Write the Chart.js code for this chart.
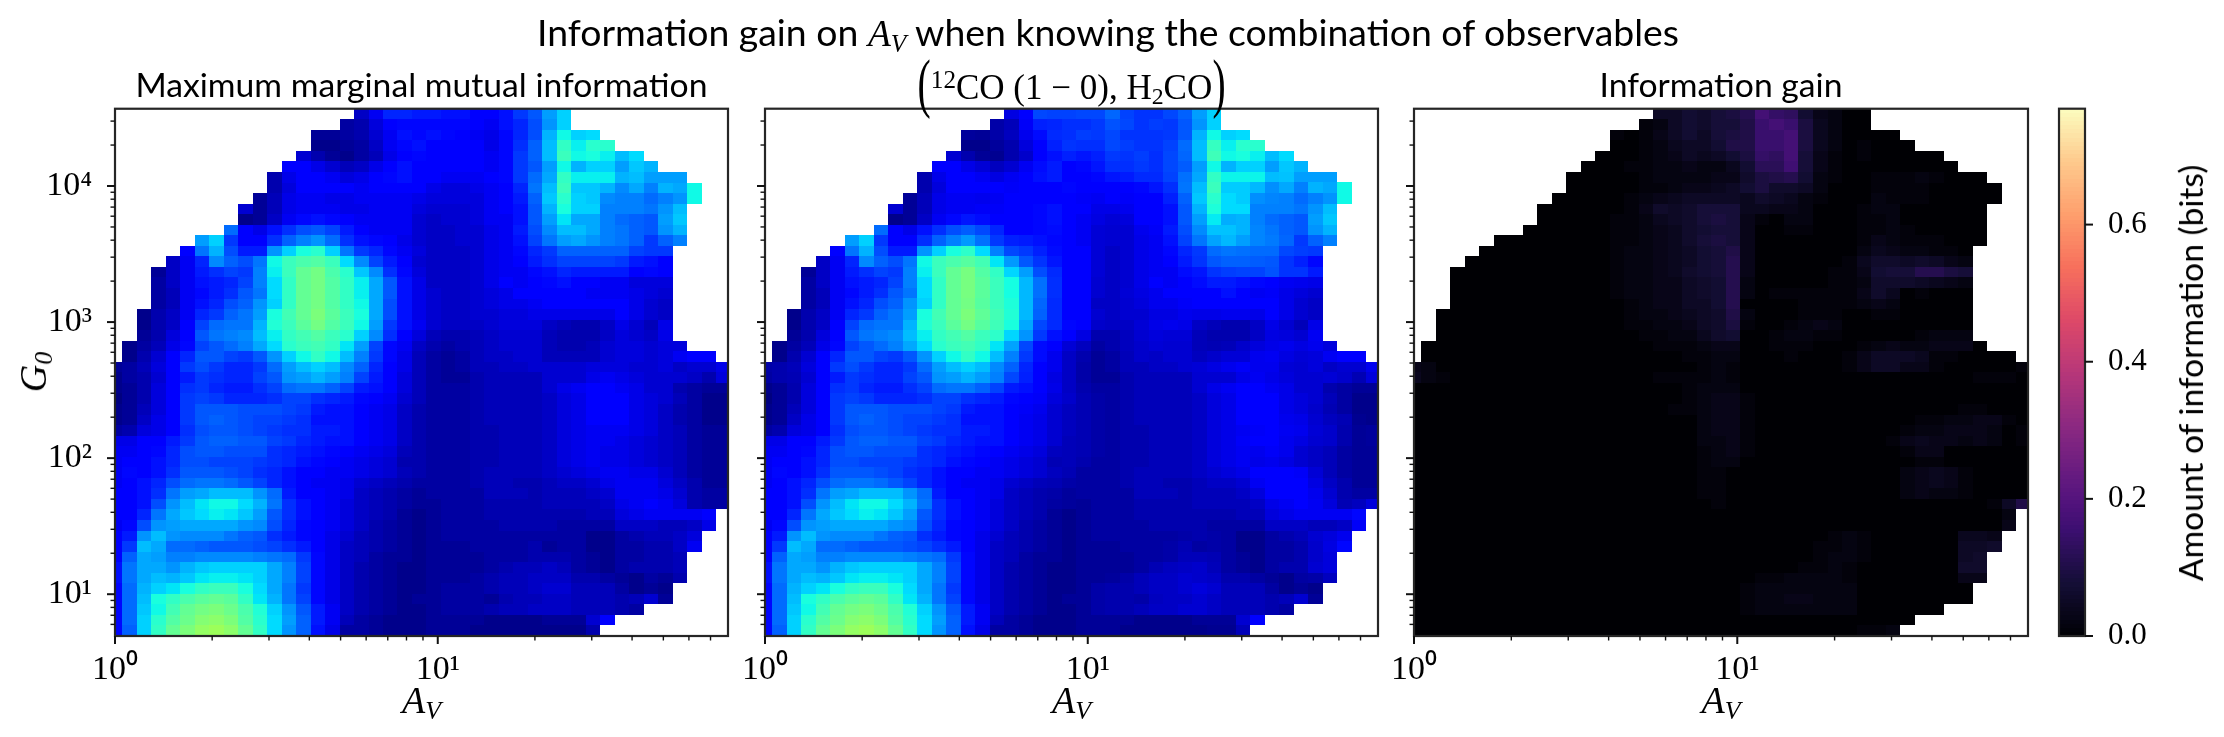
<!DOCTYPE html>
<html>
<head>
<meta charset="utf-8">
<title>Information gain</title>
<script src="https://cdn.jsdelivr.net/npm/chart.js@4"></script>
<style>
    html, body { margin: 0; padding: 0; background: #fff; }
    #page { position: relative; width: 2224px; height: 737px; overflow: hidden; }
    canvas { position: absolute; top: 0; }
    .label { position: absolute; color: #000; white-space: nowrap; z-index: 5; }
    .sans { font-family: Lato, sans-serif; }
    .math { font-family: "Liberation Serif", serif; }
    .math sub { font-size: 0.68em; line-height: 0; vertical-align: -0.22em; }
    .math sup { font-size: 0.72em; line-height: 0; vertical-align: 0.45em; }
    .bigparen { display: inline-block; font-size: 66px; line-height: 0; vertical-align: -0.09em; transform: scaleX(0.6); margin: 0 -4px; }
</style>
</head>
<body>
<div id="page">
    <canvas id="panelMax" width="745" height="737" style="left:0"></canvas>
    <canvas id="panelCombo" width="745" height="737" style="left:650px"></canvas>
    <canvas id="panelGain" width="745" height="737" style="left:1299px"></canvas>
    <canvas id="colorbar" width="179" height="737" style="left:2045px"></canvas>

    <div class="label sans" style="left:436px;width:1344px;top:9px;font-size:37.4px;text-align:center">Information gain on <span class="math"><i>A<sub>V</sub></i></span> when knowing the combination of observables</div>
    <div class="label math" style="left:765px;width:613px;top:68px;font-size:35px;line-height:40px;text-align:center"><span class="bigparen">(</span><sup>12</sup>CO (1 − 0), H<sub>2</sub>CO<span class="bigparen">)</span></div>
    <div class="label math" style="left:115px;width:613px;top:678px;font-size:38px;text-align:center"><i>A<sub>V</sub></i></div>
    <div class="label math" style="left:765px;width:613px;top:678px;font-size:38px;text-align:center"><i>A<sub>V</sub></i></div>
    <div class="label math" style="left:1414px;width:614px;top:678px;font-size:38px;text-align:center"><i>A<sub>V</sub></i></div>
    <div class="label math" style="left:33px;top:372px;font-size:38px;transform:translate(-50%,-50%) rotate(-90deg)"><i>G<sub>0</sub></i></div>
    <div class="label sans" style="left:2190px;top:373px;font-size:33.6px;transform:translate(-50%,-50%) rotate(-90deg)">Amount of information (bits)</div>
</div>

<script>
// cell centres of the grid
const avCenters = [1, 1.109, 1.229, 1.363, 1.512, 1.677, 1.859, 2.062, 2.286, 2.535, 2.811, 3.117, 3.457, 3.833, 4.25, 4.713, 5.226, 5.794, 6.425, 7.125, 7.9, 8.76, 9.71, 10.77, 11.94, 13.24, 14.68, 16.28, 18.06, 20.02, 22.2, 24.62, 27.3, 30.27, 33.57, 37.22, 41.28, 45.77, 50.75, 56.28, 62.4, 69.2, 76.73];
const g0Centers = [33830, 28300, 23670, 19810, 16570, 13860, 11600, 9700, 8115, 6790, 5680, 4752, 3976, 3326, 2782, 2327, 1947, 1629, 1363, 1140, 953.5, 797.7, 667.4, 558.3, 467.1, 390.7, 326.9, 273.5, 228.8, 191.4, 160.1, 133.9, 112, 93.7, 78.4, 65.6, 54.9, 45.9, 38.4, 32.1, 26.9, 22.5, 18.8, 15.7, 13.2, 11, 9.21, 7.7, 6.45, 5.39];

// axis ticks
const avTicks = [1, 2, 3, 4, 5, 6, 7, 8, 9, 10, 20, 30, 40, 50, 60, 70];
const g0Ticks = [6, 7, 8, 9, 10, 20, 30, 40, 50, 60, 70, 80, 90, 100, 200, 300, 400, 500, 600, 700, 800, 900, 1000, 2000, 3000, 4000, 5000, 6000, 7000, 8000, 9000, 10000, 20000, 30000];
const powerLabels = { 1: "10⁰", 10: "10¹", 100: "10²", 1000: "10³", 10000: "10⁴" };
const colorbarTicks = [0, 0.2, 0.4, 0.6];

// first column that has data in each row (top row first)
const rowStart = [17, 16, 14, 14, 13, 12, 11, 11, 10, 9, 9, 8, 6, 5, 4, 3, 3, 3, 3, 2, 2, 2, 1, 1, 0, 0, 0, 0, 0, 0, 0, 0, 0, 0, 0, 0, 0, 0, 0, 0, 0, 0, 0, 0, 0, 0, 0, 0, 0, 0];

// maximum marginal mutual information, in 0.02 bits
const maxMarginal = [
    [6, 10, 16, 16, 15, 15, 14, 14, 12, 11, 14, 18, 21, 28, 33],
    [3, 4, 8, 12, 13, 13, 13, 13, 13, 11, 10, 14, 16, 20, 27, 33],
    [2, 2, 3, 4, 7, 10, 14, 13, 14, 13, 12, 10, 9, 13, 16, 20, 30, 37, 33, 34],
    [1, 1, 2, 3, 6, 10, 13, 14, 12, 12, 12, 11, 9, 13, 17, 22, 31, 41, 36, 40, 40],
    [7, 4, 2, 1, 3, 5, 9, 12, 13, 11, 11, 11, 11, 10, 13, 18, 22, 31, 42, 37, 38, 36, 31, 34],
    [11, 11, 9, 7, 5, 6, 9, 12, 14, 11, 11, 11, 11, 11, 10, 13, 18, 21, 28, 37, 30, 33, 33, 28, 32, 30],
    [4, 9, 11, 11, 10, 8, 9, 11, 13, 14, 11, 11, 10, 10, 10, 11, 13, 18, 23, 29, 41, 36, 36, 36, 30, 31, 28, 28, 28],
    [4, 8, 11, 11, 11, 11, 10, 11, 11, 11, 11, 9, 8, 8, 9, 10, 12, 16, 24, 31, 42, 32, 32, 30, 26, 29, 25, 30, 29, 37],
    [2, 5, 9, 10, 10, 9, 9, 10, 10, 10, 10, 9, 8, 8, 8, 8, 10, 11, 15, 22, 32, 40, 33, 32, 26, 25, 25, 23, 25, 27, 37],
    [7, 2, 5, 9, 10, 10, 10, 9, 9, 10, 10, 10, 8, 7, 7, 7, 8, 10, 11, 14, 21, 30, 38, 33, 33, 25, 25, 25, 24, 27, 31],
    [1, 2, 6, 10, 13, 14, 13, 11, 10, 10, 10, 10, 7, 6, 7, 7, 8, 10, 10, 14, 21, 28, 35, 29, 29, 25, 23, 22, 21, 28, 32],
    [23, 11, 9, 14, 17, 20, 21, 19, 15, 11, 10, 10, 10, 7, 6, 6, 7, 7, 9, 10, 15, 20, 26, 31, 31, 29, 25, 24, 22, 21, 27, 30],
    [28, 33, 18, 12, 11, 17, 22, 25, 27, 23, 17, 14, 13, 11, 9, 7, 6, 6, 7, 7, 9, 10, 14, 19, 24, 28, 29, 27, 25, 24, 22, 18, 22, 25],
    [11, 24, 30, 20, 15, 15, 27, 33, 38, 40, 33, 24, 18, 16, 13, 10, 8, 6, 6, 6, 7, 9, 10, 13, 16, 18, 22, 22, 22, 22, 22, 19, 18, 18],
    [6, 10, 16, 26, 22, 20, 24, 37, 42, 44, 45, 42, 34, 26, 19, 15, 11, 7, 6, 6, 6, 7, 9, 10, 12, 15, 17, 19, 19, 19, 19, 18, 15, 14, 12],
    [2, 6, 10, 15, 17, 19, 18, 25, 36, 42, 47, 49, 44, 40, 32, 26, 17, 13, 8, 6, 6, 6, 7, 9, 10, 10, 13, 14, 16, 15, 15, 15, 15, 12, 13, 11],
    [3, 6, 10, 14, 15, 16, 19, 25, 34, 41, 47, 49, 45, 41, 36, 29, 21, 14, 9, 6, 6, 6, 7, 9, 11, 10, 12, 13, 14, 12, 11, 10, 10, 8, 8, 8],
    [3, 5, 10, 13, 15, 17, 21, 24, 34, 41, 47, 49, 45, 41, 36, 29, 21, 14, 9, 7, 6, 6, 7, 8, 9, 11, 11, 11, 11, 11, 10, 10, 10, 9, 8, 7],
    [3, 5, 10, 14, 16, 20, 22, 27, 33, 41, 47, 49, 45, 41, 37, 29, 20, 14, 9, 7, 6, 6, 7, 8, 9, 9, 10, 11, 11, 11, 11, 11, 11, 9, 7, 6],
    [1, 4, 6, 10, 16, 18, 22, 24, 28, 38, 43, 47, 50, 46, 42, 38, 29, 20, 14, 9, 7, 6, 6, 7, 7, 8, 8, 9, 9, 9, 9, 9, 9, 11, 9, 7, 6],
    [1, 4, 6, 11, 19, 23, 24, 24, 30, 39, 42, 46, 49, 45, 42, 37, 28, 18, 14, 10, 7, 6, 6, 6, 7, 8, 8, 8, 6, 5, 4, 4, 6, 9, 7, 5, 9],
    [2, 4, 8, 12, 21, 24, 25, 26, 31, 36, 41, 43, 45, 42, 40, 33, 26, 17, 12, 8, 5, 4, 4, 5, 6, 7, 7, 7, 5, 4, 4, 4, 6, 8, 7, 6, 9],
    [1, 3, 5, 9, 13, 19, 21, 23, 25, 29, 34, 40, 42, 43, 41, 35, 28, 19, 13, 10, 6, 4, 3, 4, 5, 6, 7, 7, 7, 5, 4, 4, 5, 7, 8, 8, 7, 8, 8],
    [1, 4, 7, 11, 16, 21, 21, 19, 18, 21, 27, 33, 37, 41, 37, 31, 25, 18, 13, 9, 5, 3, 2, 3, 5, 6, 6, 7, 7, 5, 5, 5, 5, 7, 8, 8, 7, 8, 10, 11, 11],
    [2, 3, 5, 8, 11, 18, 20, 18, 16, 16, 18, 23, 28, 31, 33, 31, 26, 22, 16, 12, 9, 5, 3, 2, 3, 5, 5, 6, 6, 7, 7, 7, 7, 8, 8, 8, 7, 7, 8, 6, 7, 7, 9],
    [1, 3, 4, 7, 11, 15, 18, 17, 16, 16, 19, 21, 27, 28, 30, 28, 25, 19, 15, 11, 8, 5, 3, 2, 2, 4, 5, 5, 5, 5, 7, 7, 7, 9, 10, 9, 8, 7, 7, 7, 6, 4, 8],
    [1, 2, 4, 8, 12, 17, 18, 16, 15, 15, 17, 19, 23, 24, 24, 22, 19, 15, 14, 11, 8, 5, 3, 3, 3, 4, 5, 5, 5, 5, 7, 9, 10, 11, 11, 10, 9, 7, 7, 4, 3, 2, 2],
    [0, 2, 4, 8, 12, 18, 19, 18, 16, 16, 16, 17, 19, 19, 17, 16, 15, 13, 11, 10, 7, 5, 3, 3, 3, 4, 5, 5, 5, 5, 6, 8, 9, 11, 11, 11, 9, 8, 7, 5, 3, 1, 1],
    [1, 2, 5, 8, 12, 18, 21, 21, 21, 20, 20, 20, 19, 18, 15, 14, 14, 12, 10, 9, 6, 4, 3, 3, 3, 4, 5, 5, 5, 5, 6, 8, 9, 11, 11, 11, 9, 8, 6, 4, 3, 1, 1],
    [1, 2, 6, 9, 12, 18, 21, 22, 21, 20, 19, 19, 18, 17, 14, 14, 14, 12, 10, 9, 6, 4, 3, 3, 3, 4, 5, 5, 5, 5, 6, 8, 9, 11, 11, 11, 9, 8, 6, 4, 3, 1, 1],
    [3, 4, 8, 9, 12, 17, 20, 21, 21, 20, 19, 18, 17, 17, 15, 15, 14, 12, 10, 9, 6, 4, 3, 3, 3, 4, 4, 5, 5, 5, 6, 8, 9, 10, 10, 10, 9, 8, 6, 5, 3, 2, 2],
    [9, 9, 11, 12, 15, 18, 21, 22, 22, 21, 21, 19, 18, 16, 15, 14, 14, 11, 10, 9, 6, 4, 3, 3, 3, 4, 4, 5, 5, 5, 6, 8, 9, 10, 10, 9, 8, 7, 6, 5, 3, 2, 2],
    [10, 10, 11, 13, 16, 20, 21, 21, 20, 20, 20, 17, 16, 15, 14, 13, 12, 10, 9, 8, 5, 4, 3, 3, 3, 4, 4, 5, 5, 5, 6, 8, 9, 10, 9, 9, 8, 7, 6, 5, 3, 2, 2],
    [10, 11, 12, 14, 16, 20, 20, 19, 19, 19, 18, 17, 16, 14, 13, 12, 10, 9, 8, 7, 4, 4, 3, 3, 3, 4, 4, 5, 5, 5, 6, 8, 9, 10, 9, 9, 8, 7, 6, 5, 3, 2, 2],
    [10, 13, 12, 14, 17, 21, 21, 21, 20, 19, 17, 16, 14, 12, 11, 10, 10, 9, 8, 7, 5, 4, 3, 3, 3, 4, 5, 5, 5, 5, 6, 7, 8, 9, 10, 10, 9, 9, 7, 5, 3, 2, 2],
    [10, 12, 14, 16, 20, 23, 24, 24, 23, 21, 19, 16, 14, 12, 10, 10, 9, 7, 6, 5, 4, 3, 3, 3, 3, 4, 5, 5, 4, 4, 5, 6, 6, 7, 9, 10, 10, 10, 8, 6, 4, 2, 2],
    [11, 12, 14, 17, 24, 28, 29, 31, 31, 31, 27, 23, 15, 12, 11, 10, 9, 6, 5, 4, 3, 2, 3, 3, 3, 3, 5, 5, 5, 4, 5, 5, 5, 6, 7, 10, 10, 10, 9, 7, 4, 3, 3],
    [11, 12, 14, 20, 27, 31, 35, 37, 37, 34, 30, 24, 17, 14, 11, 10, 8, 6, 5, 4, 3, 2, 2, 3, 3, 3, 4, 4, 4, 4, 5, 5, 5, 5, 6, 9, 10, 11, 10, 8, 4, 3, 3],
    [11, 12, 16, 24, 29, 32, 34, 36, 35, 32, 28, 21, 17, 14, 12, 10, 8, 6, 5, 4, 2, 1, 2, 3, 3, 3, 4, 4, 4, 4, 4, 4, 4, 5, 5, 8, 9, 10, 10, 10, 10, 12],
    [10, 13, 20, 27, 28, 29, 29, 29, 29, 27, 26, 20, 16, 13, 12, 10, 8, 6, 4, 3, 2, 1, 2, 3, 3, 3, 3, 4, 4, 4, 4, 3, 3, 3, 3, 6, 6, 6, 5, 5, 6, 9],
    [11, 15, 27, 31, 27, 26, 26, 26, 24, 22, 21, 17, 15, 13, 11, 9, 7, 5, 4, 3, 2, 1, 2, 3, 3, 3, 3, 3, 3, 3, 3, 3, 3, 1, 1, 3, 4, 5, 5, 6, 8],
    [11, 18, 31, 29, 23, 23, 22, 21, 21, 21, 20, 19, 17, 15, 12, 9, 6, 5, 4, 3, 2, 1, 2, 2, 2, 3, 3, 3, 3, 4, 2, 3, 3, 1, 1, 3, 3, 4, 4, 6, 10],
    [12, 22, 29, 28, 25, 25, 26, 26, 26, 26, 25, 24, 23, 18, 13, 9, 6, 5, 3, 2, 2, 1, 2, 2, 2, 2, 3, 3, 3, 4, 4, 4, 3, 2, 1, 3, 3, 4, 4, 5],
    [14, 24, 29, 29, 27, 30, 32, 33, 33, 33, 33, 29, 25, 19, 13, 9, 6, 4, 3, 2, 1, 1, 2, 2, 2, 2, 3, 4, 5, 5, 6, 5, 3, 2, 1, 3, 4, 4, 4, 5],
    [14, 24, 29, 31, 30, 32, 35, 36, 36, 35, 33, 29, 25, 19, 13, 9, 6, 4, 3, 2, 1, 1, 2, 2, 2, 3, 4, 5, 5, 6, 6, 6, 4, 4, 3, 2, 1, 3, 2, 4],
    [13, 23, 30, 33, 35, 38, 41, 42, 42, 38, 34, 29, 24, 18, 13, 9, 6, 4, 3, 2, 1, 1, 2, 3, 3, 3, 4, 5, 5, 6, 7, 7, 5, 5, 5, 3, 1, 2, 1],
    [13, 23, 31, 38, 41, 44, 46, 47, 46, 41, 35, 30, 24, 19, 13, 9, 6, 4, 3, 2, 1, 2, 2, 3, 3, 3, 2, 4, 5, 5, 6, 6, 5, 5, 5, 4, 5, 7, 2],
    [13, 23, 32, 37, 43, 47, 49, 50, 48, 44, 39, 33, 27, 21, 15, 10, 6, 4, 3, 2, 1, 1, 2, 3, 3, 3, 4, 5, 5, 6, 6, 6, 5, 5, 5, 4, 3],
    [13, 23, 33, 40, 45, 48, 51, 52, 50, 45, 40, 34, 28, 22, 15, 10, 5, 3, 2, 1, 1, 1, 2, 2, 2, 2, 1, 1, 1, 1, 2, 2, 2, 7, 12],
    [13, 22, 33, 41, 47, 50, 53, 54, 52, 47, 41, 34, 27, 22, 14, 9, 3, 3, 2, 1, 1, 1, 2, 2, 2, 1, 1, 1, 1, 1, 1, 1, 1, 4]
];

// information gain, in 0.01 bits: column of the first value of each row, zero after the last value
const gainStart = [17, 16, 14, 16, 16, 15, 16, 16, 15, 15, 14, 14, 14, 14, 14, 14, 14, 14, 15, 15, 15, 16, 17, 19, 0, 0, 19, 19, 18, 20, 20, 20, 20, 20, 20, 20, 20, 21, 41, 41, 29, 28, 28, 27, 24, 23, 23, 23, 0, 31];
const gainValues = [
    [5, 5, 7, 6, 8, 9, 11, 17, 14, 13, 7, 3, 2],
    [1, 2, 5, 7, 6, 8, 8, 10, 15, 17, 15, 9, 4, 2],
    [1, 0, 1, 3, 5, 7, 5, 8, 9, 10, 15, 15, 17, 9, 4, 2],
    [1, 2, 4, 5, 5, 7, 10, 10, 15, 15, 17, 9, 4, 2, 0, 1],
    [1, 2, 3, 5, 4, 5, 7, 9, 14, 13, 17, 8, 3, 1, 0, 1],
    [1, 1, 2, 2, 3, 2, 2, 4, 7, 12, 12, 16, 8, 3, 1],
    [1, 2, 2, 2, 2, 3, 3, 6, 9, 10, 11, 7, 2, 1, 0, 0, 1, 1, 1, 2, 1],
    [1, 1, 2, 3, 3, 4, 5, 7, 9, 6, 6, 5, 2, 0, 0, 0, 1, 1, 1, 1],
    [1, 2, 3, 4, 5, 5, 5, 5, 4, 6, 5, 4, 2, 1, 0, 0, 0, 2, 1, 1, 1],
    [1, 3, 6, 5, 6, 8, 8, 8, 4, 4, 3, 3, 2, 0, 0, 0, 1, 2, 2],
    [1, 1, 2, 4, 5, 6, 8, 9, 8, 3, 1, 0, 2, 2, 0, 0, 0, 1, 1, 2],
    [1, 1, 2, 3, 4, 6, 7, 8, 8, 3, 0, 0, 1, 1, 0, 0, 0, 1, 1, 2, 1],
    [1, 1, 2, 3, 4, 6, 8, 9, 8, 3, 0, 0, 0, 0, 0, 0, 0, 1, 3, 2, 1, 1, 1],
    [1, 2, 2, 3, 4, 5, 7, 8, 10, 3, 0, 0, 0, 0, 0, 0, 0, 2, 4, 3, 2, 2, 1, 1],
    [1, 2, 2, 3, 4, 5, 7, 8, 11, 3, 0, 0, 0, 0, 0, 0, 1, 4, 6, 6, 5, 6, 5, 3, 2],
    [1, 2, 2, 3, 4, 6, 7, 8, 11, 3, 0, 0, 0, 0, 0, 1, 1, 3, 7, 8, 8, 11, 11, 9, 8],
    [1, 2, 2, 3, 3, 5, 6, 7, 11, 2, 0, 0, 0, 0, 0, 1, 1, 2, 6, 6, 6, 5, 4, 3, 2],
    [1, 2, 2, 3, 3, 5, 6, 7, 11, 2, 0, 1, 1, 1, 1, 1, 1, 3, 6, 4, 0, 1],
    [1, 2, 3, 3, 5, 5, 7, 11, 0, 0, 0, 0, 1, 1, 1, 1, 2, 3, 2],
    [1, 2, 2, 3, 4, 5, 6, 10, 2, 0, 0, 0, 1, 1, 1, 0, 0, 1, 1],
    [1, 1, 2, 2, 3, 5, 6, 9, 1, 0, 0, 1, 2, 3, 2],
    [1, 1, 2, 2, 4, 6, 7, 0, 0, 1, 2, 2, 1, 1, 0, 0, 0, 0, 0, 1, 2, 2, 2],
    [1, 1, 1, 2, 3, 3, 0, 0, 1, 1, 1, 0, 0, 0, 1, 2, 3, 2, 2, 3, 3, 3],
    [1, 1, 2, 2, 0, 0, 0, 1, 0, 0, 0, 1, 3, 5, 5, 5, 4, 1, 1],
    [3, 2, 0, 0, 0, 0, 0, 0, 0, 0, 0, 0, 0, 0, 0, 0, 0, 0, 0, 0, 1, 2, 1, 0, 0, 0, 0, 0, 0, 0, 1, 3, 5, 5, 3, 3, 1, 0, 0, 0, 0, 0, 1],
    [4, 2, 1, 0, 0, 0, 0, 0, 0, 0, 0, 0, 0, 0, 0, 0, 0, 1, 1, 1, 1, 2, 1, 0, 0, 0, 0, 0, 0, 0, 0, 0, 0, 0, 0, 0, 0, 0, 0, 1, 1, 1],
    [1, 2, 2, 2],
    [1, 2, 3, 3, 1],
    [1, 1, 2, 3, 3, 1, 0, 0, 0, 0, 0, 0, 0, 0, 0, 0, 0, 0, 0, 0, 1, 1],
    [2, 3, 3, 1, 0, 0, 0, 0, 0, 0, 0, 0, 0, 0, 0, 1, 1, 2, 2, 3, 3, 1],
    [2, 3, 3, 1, 0, 0, 0, 0, 0, 0, 0, 0, 0, 0, 1, 2, 2, 3, 3, 3, 2, 0, 1],
    [2, 2, 3, 1, 0, 0, 0, 0, 0, 0, 0, 0, 0, 1, 3, 4, 3, 3, 2, 3, 2, 0, 1],
    [1, 2, 3, 1, 0, 0, 0, 0, 0, 0, 0, 0, 0, 0, 1, 3, 3],
    [1, 2, 2, 0, 0, 0, 0, 0, 0, 0, 0, 0, 0, 0, 0, 1, 1],
    [1, 1, 0, 0, 0, 0, 0, 0, 0, 0, 0, 0, 0, 0, 2, 3, 4, 3, 1],
    [1, 1, 0, 0, 0, 0, 0, 0, 0, 0, 0, 0, 0, 0, 2, 3, 4, 3, 1],
    [1, 1, 0, 0, 0, 0, 0, 0, 0, 0, 0, 0, 0, 0, 2, 3, 2, 2, 1],
    [1, 0, 0, 0, 0, 0, 0, 0, 0, 0, 0, 0, 0, 0, 0, 0, 0, 0, 0, 1, 5, 10],
    [2],
    [3],
    [1, 2, 1, 0, 0, 0, 0, 0, 0, 4, 4, 3],
    [1, 1, 2, 1, 0, 0, 0, 0, 0, 0, 5, 5, 6],
    [1, 2, 2, 1, 0, 0, 0, 0, 0, 0, 5, 6],
    [1, 1, 2, 1, 0, 0, 0, 0, 0, 0, 0, 6, 6],
    [1, 1, 2, 2, 2, 2, 1, 0, 0, 0, 0, 0, 0, 0, 3, 3],
    [1, 2, 2, 2, 2, 2, 2, 2],
    [1, 2, 2, 3, 3, 2, 2, 2],
    [1, 2, 2, 2, 2, 2, 2, 2],
    [],
    [1, 1, 2]
];

const gainMax = 0.769;
const jetMax = 2;

const magmaStops = [[0, 0, 0, 4], [0.1, 20, 14, 54], [0.2, 59, 15, 112], [0.25, 81, 18, 124], [0.3, 100, 26, 128], [0.4, 140, 41, 129], [0.5, 183, 55, 121], [0.6, 222, 73, 104], [0.7, 247, 112, 92], [0.8, 254, 159, 109], [0.9, 254, 202, 141], [1, 252, 253, 191]];
const jetRed = [[0, 0], [0.35, 0], [0.66, 1], [0.89, 1], [1, 0.5]];
const jetGreen = [[0, 0], [0.125, 0], [0.375, 1], [0.64, 1], [0.91, 0], [1, 0]];
const jetBlue = [[0, 0.5], [0.11, 1], [0.34, 1], [0.65, 0], [1, 0]];

function lerpStops(stops, f, channel) {
    for (let i = 1; i < stops.length; i++) {
        if (f <= stops[i][0]) {
            const t = (f - stops[i - 1][0]) / (stops[i][0] - stops[i - 1][0]);
            return stops[i - 1][channel] + t * (stops[i][channel] - stops[i - 1][channel]);
        }
    }
    return stops[stops.length - 1][channel];
}

function jetColor(value) {
    const f = Math.min(1, Math.max(0, value / jetMax));
    const r = Math.round(255 * lerpStops(jetRed, f, 1));
    const g = Math.round(255 * lerpStops(jetGreen, f, 1));
    const b = Math.round(255 * lerpStops(jetBlue, f, 1));
    return `rgb(${r},${g},${b})`;
}

function magmaColor(value) {
    const f = Math.min(1, Math.max(0, value / gainMax));
    const r = Math.round(lerpStops(magmaStops, f, 1));
    const g = Math.round(lerpStops(magmaStops, f, 2));
    const b = Math.round(lerpStops(magmaStops, f, 3));
    return `rgb(${r},${g},${b})`;
}

function gainAt(row, col) {
    const i = col - gainStart[row];
    if (i < 0 || i >= gainValues[row].length) return 0;
    return gainValues[row][i] / 100;
}

// one point per cell, with a getter for what the panel shows
function buildCells(getValue, getColor) {
    const cells = [];
    maxMarginal.forEach((values, row) => {
        values.forEach((level, i) => {
            const col = rowStart[row] + i;
            const v = getValue(level / 50, gainAt(row, col));
            cells.push({ x: avCenters[col], y: g0Centers[row], col: col, row: row, color: getColor(v) });
        });
    });
    return cells;
}

function edgeBetween(a, b) {
    return Math.sqrt(a * b);
}

const heatmapCells = {
    id: "heatmapCells",
    beforeDatasetsDraw(chart) {
        const ctx = chart.ctx;
        const area = chart.chartArea;
        const xs = chart.scales.x;
        const ys = chart.scales.y;
        ctx.save();
        ctx.beginPath();
        ctx.rect(area.left, area.top, area.right - area.left, area.bottom - area.top);
        ctx.clip();
        chart.data.datasets[0].data.forEach(cell => {
            const xl = cell.col > 0 ? edgeBetween(avCenters[cell.col - 1], avCenters[cell.col]) : xs.min;
            const xr = cell.col < avCenters.length - 1 ? edgeBetween(avCenters[cell.col], avCenters[cell.col + 1]) : xs.max;
            const yt = cell.row > 0 ? edgeBetween(g0Centers[cell.row - 1], g0Centers[cell.row]) : ys.max;
            const yb = cell.row < g0Centers.length - 1 ? edgeBetween(g0Centers[cell.row], g0Centers[cell.row + 1]) : ys.min;
            const left = Math.round(xs.getPixelForValue(xl));
            const right = Math.round(xs.getPixelForValue(xr));
            const top = Math.round(ys.getPixelForValue(yt));
            const bottom = Math.round(ys.getPixelForValue(yb));
            ctx.fillStyle = cell.color;
            ctx.fillRect(left, top, right - left, bottom - top);
        });
        ctx.restore();
    }
};

const colorbarCells = {
    id: "colorbarCells",
    beforeDatasetsDraw(chart) {
        const ctx = chart.ctx;
        const area = chart.chartArea;
        const ys = chart.scales.y;
        chart.data.datasets[0].data.forEach(cell => {
            const top = Math.round(ys.getPixelForValue(cell.y + cell.h));
            const bottom = Math.round(ys.getPixelForValue(cell.y));
            ctx.fillStyle = magmaColor(cell.y + cell.h / 2);
            ctx.fillRect(area.left, top, area.right - area.left, bottom - top);
        });
    }
};

function isPowerOfTen(v) {
    return powerLabels[v] !== undefined;
}

// frame and tick marks, matplotlib style
const frameTicks = {
    id: "frameTicks",
    afterDatasetsDraw(chart) {
        const ctx = chart.ctx;
        const area = chart.chartArea;
        ctx.save();
        ctx.strokeStyle = "#262626";
        ctx.lineWidth = 2.2;
        ctx.strokeRect(area.left, area.top, area.right - area.left, area.bottom - area.top);
        ctx.strokeStyle = "#111";
        Object.values(chart.scales).forEach(scale => {
            if (!scale.options.display) return;
            scale.ticks.forEach(tick => {
                const logScale = scale.type === "logarithmic";
                const major = !logScale || isPowerOfTen(tick.value);
                const len = major ? 8 : 4.5;
                const p = scale.getPixelForValue(tick.value);
                ctx.lineWidth = major ? 2 : 1.4;
                ctx.beginPath();
                if (scale.isHorizontal()) {
                    ctx.moveTo(p, area.bottom);
                    ctx.lineTo(p, area.bottom + len);
                } else if (scale.position === "right") {
                    ctx.moveTo(area.right, p);
                    ctx.lineTo(area.right + len, p);
                } else {
                    ctx.moveTo(area.left, p);
                    ctx.lineTo(area.left - len, p);
                }
                ctx.stroke();
            });
        });
        ctx.restore();
    }
};

const tickFont = { family: "'Liberation Serif', serif", size: 31 };
const powerFont = { family: "'Liberation Serif', serif", size: 34 };

function setTicks(list) {
    return scale => { scale.ticks = list.map(v => ({ value: v })); };
}

function createPanel(canvasId, cells, opt) {
    new Chart(document.getElementById(canvasId), {
        type: "scatter",
        data: { datasets: [{ data: cells, pointRadius: 0, showLine: false }] },
        plugins: [heatmapCells, frameTicks],
        options: {
            responsive: false,
            animation: false,
            devicePixelRatio: 1,
            events: [],
            layout: { padding: { top: opt.title ? 58.3 : 108.7, right: opt.right, left: 0, bottom: 0 } },
            plugins: {
                legend: { display: false },
                tooltip: { enabled: false },
                title: {
                    display: !!opt.title,
                    text: opt.title,
                    fullSize: false,
                    color: "#000",
                    font: { family: "Lato, sans-serif", size: 33.7, weight: "normal" },
                    padding: { top: 8, bottom: 2 }
                }
            },
            scales: {
                x: {
                    type: "logarithmic",
                    min: 1,
                    max: 79.3,
                    grid: { display: false },
                    border: { display: false },
                    afterBuildTicks: setTicks(avTicks),
                    afterFit: scale => { scale.height = 101; },
                    ticks: {
                        autoSkip: false,
                        maxRotation: 0,
                        padding: 6,
                        color: "#000",
                        font: powerFont,
                        callback: v => powerLabels[v] || ""
                    }
                },
                y: {
                    type: "logarithmic",
                    min: 4.93,
                    max: 36980,
                    grid: { display: false },
                    border: { display: false },
                    afterBuildTicks: setTicks(g0Ticks),
                    afterFit: scale => { scale.width = opt.left; },
                    ticks: {
                        autoSkip: false,
                        padding: 15,
                        color: "#000",
                        font: powerFont,
                        callback: v => (opt.yLabels ? powerLabels[v] || "" : "")
                    }
                }
            }
        }
    });
}

createPanel("panelMax", buildCells((mmi, gain) => mmi, jetColor), {
    title: "Maximum marginal mutual information", left: 115, right: 17, yLabels: true
});
createPanel("panelCombo", buildCells((mmi, gain) => mmi + gain, jetColor), {
    title: "", left: 115, right: 17, yLabels: false
});
createPanel("panelGain", buildCells((mmi, gain) => gain, magmaColor), {
    title: "Information gain", left: 115, right: 16, yLabels: false
});

// colour bar
const colorbarLevels = [];
for (let i = 0; i < 128; i++) {
    colorbarLevels.push({ x: 0.5, y: gainMax * i / 128, h: gainMax / 128 });
}

new Chart(document.getElementById("colorbar"), {
    type: "scatter",
    data: { datasets: [{ data: colorbarLevels, pointRadius: 0, showLine: false }] },
    plugins: [colorbarCells, frameTicks],
    options: {
        responsive: false,
        animation: false,
        devicePixelRatio: 1,
        events: [],
        layout: { padding: { top: 108.7, left: 14, right: 0, bottom: 101 } },
        plugins: { legend: { display: false }, tooltip: { enabled: false } },
        scales: {
            x: { display: false, min: 0, max: 1 },
            y: {
                position: "right",
                min: 0,
                max: gainMax,
                grid: { display: false },
                border: { display: false },
                afterBuildTicks: setTicks(colorbarTicks),
                afterFit: scale => { scale.width = 139; },
                ticks: {
                    autoSkip: false,
                    padding: 15,
                    color: "#000",
                    font: tickFont,
                    callback: v => v.toFixed(1)
                }
            }
        }
    }
});
</script>
</body>
</html>
